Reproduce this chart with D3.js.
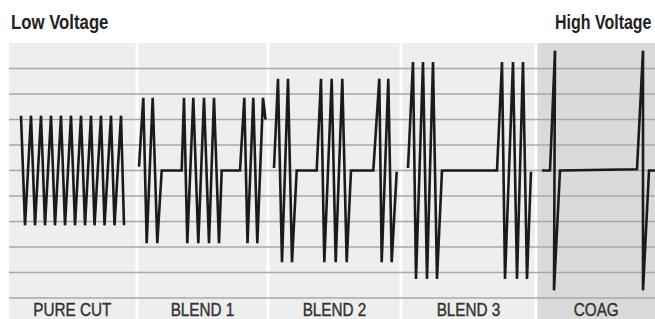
<!DOCTYPE html>
<html>
<head>
<meta charset="utf-8">
<script src="https://cdn.jsdelivr.net/npm/d3@7"></script>
<style>
  html, body { margin: 0; padding: 0; background: #fff; }
  svg { display: block; }
  .label { font-family: "Liberation Sans", Arial, sans-serif; }
</style>
</head>
<body>
<div class="chart"></div>
<script>
// modes, left to right
var categories = ['PURE CUT', 'BLEND 1', 'BLEND 2', 'BLEND 3', 'COAG'];
// time span of each mode panel [start, end]
var panelSpans = [[0, 126.5], [129.5, 257.5], [260.5, 390.5], [393.5, 525.5], [528.5, 646]];
// voltage grid levels
var gridLevels = [4, 3, 2, 1, 0, -1, -2, -3, -4, -5];

// waveforms, [time, voltage]
var pureCut = [
  [12, 2.15], [16, -2.15], [22, 2.15], [26, -2.15], [32, 2.15], [36, -2.15],
  [42, 2.15], [46, -2.15], [52, 2.15], [56, -2.15], [62, 2.15], [66, -2.15],
  [72, 2.15], [76, -2.15], [82, 2.15], [85.5, -2.15], [92, 2.15], [95.5, -2.15],
  [102, 2.15], [105.5, -2.15], [112, 2.15], [115, -2.15]
];
var blend1 = [
  [130, 0.15], [134.3, 2.85], [137.7, -2.85], [143.7, 2.85], [148.3, -2.85], [152.7, 0],
  [172.7, 0], [175, 2.85], [178.3, -2.85], [184.3, 2.85], [189.3, -2.85], [195, 2.85],
  [200, -2.85], [205, 2.85], [210, -2.85], [212.7, 0],
  [231, 0], [235.3, 2.85], [238.5, -2.85], [244.3, 2.85], [248.3, -2.85], [254, 2.85],
  [256.5, 2.0]
];
var blend2 = [
  [265, 0.1], [269, 3.6], [273, -3.6], [279, 3.6], [283, -3.6], [287.7, 0],
  [307.7, 0], [312, 3.6], [315.3, -3.6], [322.7, 3.6], [326.7, -3.6], [333.3, 3.6],
  [337.7, -3.6], [342, 0],
  [364.3, 0], [370.3, 3.6], [372.7, -3.6], [379.3, 3.6], [382.7, -3.6], [387.7, -0.05]
];
var blend3 = [
  [399, 0.1], [404, 4.25], [407, -4.25], [414, 4.25], [418, -4.25], [424, 4.25],
  [428, -4.25], [433, 0],
  [488, 0], [493, 4.25], [496, -4.25], [504, 4.25], [508, -4.25], [514, 4.25],
  [518, -4.25], [522, -0.05]
];
var coag = [
  [533, 0], [541, 0], [546, 4.7], [545, -4.7], [551, 0],
  [628, 0.05], [634, 4.7], [634, -4.7], [640, 0], [646, 0]
];
var waves = [pureCut, blend1, blend2, blend3, coag];

var panelFill = ['#eeeeee', '#eeeeee', '#eeeeee', '#eeeeee', '#dadada'];

var width = 655, height = 319;

var x = d3.scaleLinear().domain([0, 646]).range([9, 655]);
var y = d3.scaleLinear().domain([-5, 5]).range([298, 43]);

var svg = d3.select('.chart').append('svg')
  .attr('width', width)
  .attr('height', height);

svg.append('g')
  .attr('class', 'panels')
  .selectAll('rect')
  .data(panelSpans)
  .enter().append('rect')
  .attr('x', function(d) { return x(d[0]); })
  .attr('y', y(5))
  .attr('width', function(d) { return x(d[1]) - x(d[0]); })
  .attr('height', height - y(5))
  .attr('fill', function(d, i) { return panelFill[i]; });

svg.append('g')
  .attr('class', 'grid')
  .selectAll('line')
  .data(gridLevels)
  .enter().append('line')
  .attr('x1', x(0))
  .attr('x2', x(646))
  .attr('y1', function(d) { return y(d); })
  .attr('y2', function(d) { return y(d); })
  .attr('stroke', '#a9a9a9')
  .attr('stroke-width', 1.6);

var line = d3.line()
  .x(function(d) { return x(d[0]); })
  .y(function(d) { return y(d[1]); });

svg.append('g')
  .attr('class', 'waves')
  .selectAll('path')
  .data(waves)
  .enter().append('path')
  .attr('d', line)
  .attr('fill', 'none')
  .attr('stroke', '#1b1b1b')
  .attr('stroke-width', 2.6)
  .attr('stroke-linejoin', 'miter')
  .attr('stroke-miterlimit', 3);

// condensed look: squeeze the glyphs horizontally
svg.append('g')
  .attr('class', 'label')
  .selectAll('text')
  .data(categories)
  .enter().append('text')
  .attr('transform', function(d, i) {
    var cx = (x(panelSpans[i][0]) + x(panelSpans[i][1])) / 2;
    return 'translate(' + cx + ',316) scale(0.85,1)';
  })
  .attr('text-anchor', 'middle')
  .attr('font-size', 18)
  .attr('fill', '#333')
  .attr('stroke', '#333')
  .attr('stroke-width', 0.4)
  .text(function(d) { return d; });

svg.append('text')
  .attr('class', 'label')
  .attr('transform', 'translate(11,29) scale(0.86,1)')
  .attr('font-size', 19.5)
  .attr('font-weight', 'bold')
  .attr('fill', '#222')
  .text('Low Voltage');

svg.append('text')
  .attr('class', 'label')
  .attr('transform', 'translate(555,29) scale(0.82,1)')
  .attr('font-size', 19.5)
  .attr('font-weight', 'bold')
  .attr('fill', '#222')
  .text('High Voltage');
</script>
</body>
</html>
